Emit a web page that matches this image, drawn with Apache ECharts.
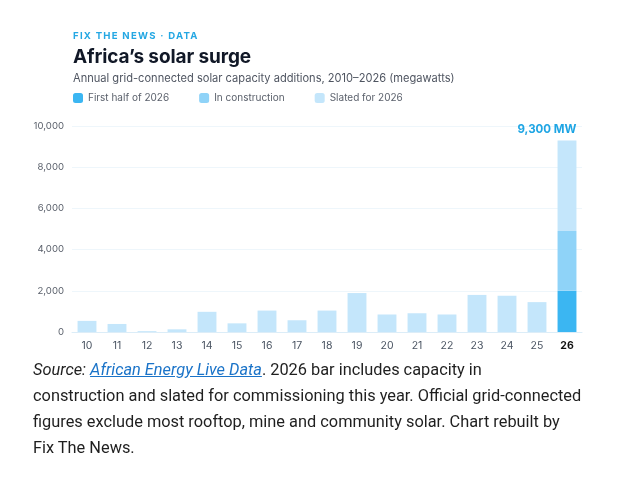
<!DOCTYPE html>
<html>
<head>
<meta charset="utf-8">
<script src="https://cdn.jsdelivr.net/npm/echarts@6/dist/echarts.min.js"></script>
<style>
  html, body { margin: 0; padding: 0; background: #fff; }
  #wrap { position: relative; width: 622px; height: 481px; }
  #chart { position: absolute; left: 0; top: 0; width: 622px; height: 360px; }
  .hd { position: absolute; left: 73px; margin: 0; font-family: Inter, sans-serif; white-space: nowrap; }
  #kicker { top: 30px; font-size: 9.6px; line-height: 12px; font-weight: 700; letter-spacing: 1.25px; color: #24a7e3; }
  #title { top: 45px; font-size: 19px; line-height: 24px; font-weight: 700; color: #111827; letter-spacing: -0.1px; }
  #subtitle { top: 71px; font-size: 11.1px; line-height: 14px; color: #4f5561; }
  #caption {
    position: absolute; left: 33px; top: 357px; width: 580px; margin: 0;
    font-family: Roboto, "Noto Sans", sans-serif; font-size: 16.35px; line-height: 26px; color: #1f1f1f;
  }
  #caption a { color: #1a73c8; font-style: italic; }
</style>
</head>
<body>
<div id="wrap">
  <div id="chart"></div>
  <p class="hd" id="kicker">FIX THE NEWS · DATA</p>
  <p class="hd" id="title">Africa’s solar surge</p>
  <p class="hd" id="subtitle">Annual grid-connected solar capacity additions, 2010–2026 (megawatts)</p>
  <p id="caption"><i>Source: </i><a href="#">African Energy Live Data</a>. 2026 bar includes capacity in<br>construction and slated for commissioning this year. Official grid-connected<br>figures exclude most rooftop, mine and community solar. Chart rebuilt by<br>Fix The News.</p>
</div>
<script>
(function () {
    // 数据
    var years = ['10', '11', '12', '13', '14', '15', '16', '17', '18', '19', '20', '21', '22', '23', '24', '25', '26'];
    var pastAdditions = [540, 390, 40, 130, 980, 420, 1040, 570, 1040, 1890, 850, 910, 850, 1800, 1760, 1450, '-'];
    var firstHalf2026 = ['-', '-', '-', '-', '-', '-', '-', '-', '-', '-', '-', '-', '-', '-', '-', '-', 2000];
    var inConstruction = ['-', '-', '-', '-', '-', '-', '-', '-', '-', '-', '-', '-', '-', '-', '-', '-', 2900];
    var slated2026 = ['-', '-', '-', '-', '-', '-', '-', '-', '-', '-', '-', '-', '-', '-', '-', '-', 4400];
    var yTicks = [0, 2000, 4000, 6000, 8000, 10000];

    var cDark = '#3bb6f2', cMid = '#8fd3f8', cLight = '#c4e6fb';
    var total26 = firstHalf2026[16] + inConstruction[16] + slated2026[16];

    var myChart = echarts.init(document.getElementById('chart'));
    var option;

    option = {
        animation: false,
        textStyle: { fontFamily: 'Inter' },
        legend: {
            data: ['First half of 2026', 'In construction', 'Slated for 2026'],
            left: 68, top: 88,
            icon: 'roundRect', itemWidth: 10, itemHeight: 10, itemGap: 30,
            textStyle: { fontSize: 10, color: '#5b616c', fontFamily: 'Inter' }
        },
        grid: { left: 72, right: 40, top: 126, bottom: 28 },
        xAxis: {
            type: 'category',
            data: years,
            axisTick: { show: false },
            axisLine: { lineStyle: { color: '#dcedf8', width: 1 } },
            axisLabel: {
                interval: 0, fontSize: 10.5, color: '#4b5563', margin: 8,
                formatter: function (v) { return v === '26' ? '{b|' + v + '}' : v; },
                rich: { b: { fontSize: 10.5, fontWeight: 'bold', color: '#111' } }
            }
        },
        yAxis: {
            type: 'value',
            min: yTicks[0], max: yTicks[yTicks.length - 1], interval: 2000,
            axisLabel: {
                fontSize: 9.6, color: '#5b616c', margin: 8,
                formatter: function (v) { return v.toLocaleString('en-US'); }
            },
            splitLine: { lineStyle: { color: '#eef6fb' } }
        },
        series: [
            {
                name: 'Annual additions', type: 'bar', stack: 'mw', data: pastAdditions,
                barCategoryGap: '37%', itemStyle: { color: cLight }
            },
            {
                name: 'First half of 2026', type: 'bar', stack: 'mw', data: firstHalf2026,
                itemStyle: { color: cDark }
            },
            {
                name: 'In construction', type: 'bar', stack: 'mw', data: inConstruction,
                itemStyle: { color: cMid }
            },
            {
                name: 'Slated for 2026', type: 'bar', stack: 'mw', data: slated2026,
                itemStyle: { color: cLight },
                label: {
                    show: true, position: ['100%', -5], align: 'right', verticalAlign: 'bottom',
                    fontSize: 11.5, fontWeight: 'bold', color: '#1ea5e4', fontFamily: 'Inter',
                    formatter: function () { return total26.toLocaleString('en-US') + ' MW'; }
                }
            }
        ]
    };
    myChart.setOption(option);
})();
</script>
</body>
</html>
